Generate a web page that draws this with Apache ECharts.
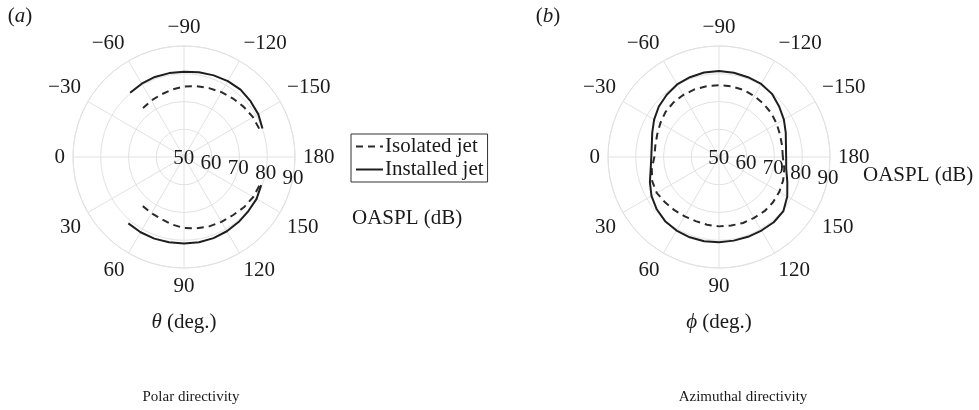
<!DOCTYPE html>
<html>
<head>
<meta charset="utf-8">
<script src="https://cdn.jsdelivr.net/npm/echarts@6/dist/echarts.min.js"></script>
<style>html,body{margin:0;padding:0;background:#fff}#c{width:979px;height:410px}</style>
</head>
<body>
<div id="c"></div>
<script>
// ---- data ----
const radiusTicks = [50, 60, 70, 80, 90];
const thetaA = [50, 60, 70, 80, 90, 100, 110, 120, 130, 140, 150, 160];
const installedNegA = [80.2, 80.5, 80.7, 80.7, 80.7, 81.0, 81.3, 81.6, 81.7, 81.3, 80.9, 80.1];
const installedPosA = [81.2, 81.3, 81.3, 81.2, 81.2, 81.2, 81.1, 80.9, 80.6, 80.3, 80.2, 79.6];
const isolatedNegA = [73.0, 73.5, 74.0, 74.7, 75.4, 75.9, 76.4, 77.0, 77.5, 78.1, 78.7, 79.0];
const isolatedPosA = [73.1, 73.4, 73.8, 74.7, 75.6, 76.1, 76.6, 77.0, 77.4, 78.2, 78.8, 79.1];
const phiB = [-180,-170,-160,-150,-140,-130,-120,-110,-100,-90,-80,-70,-60,-50,-40,-30,-20,-10,0,10,20,30,40,50,60,70,80,90,100,110,120,130,140,150,160,170,180];
const installedB = [74.2,74.5,75.6,77.0,78.3,79.7,80.4,80.6,80.8,81.0,80.9,80.6,80.2,79.3,78.3,77.0,75.6,74.6,74.4,75.0,76.5,78.1,79.3,80.2,80.6,80.8,80.8,80.7,80.6,80.6,80.6,80.7,80.3,78.4,76.2,74.6,74.2];
const isolatedB = [73.0,73.1,73.4,74.0,74.6,75.0,75.4,75.7,75.9,75.9,75.9,75.9,75.8,75.6,75.2,74.4,73.7,73.3,73.3,74.6,75.6,75.9,75.4,75.0,74.7,74.6,74.8,75.0,75.1,75.3,75.3,75.5,75.4,75.1,74.6,73.9,73.0];
const seriesNames = ['Isolated jet', 'Installed jet'];

// ---- styles ----
const FONT = 'Liberation Serif, Times New Roman, serif';
const TXT = '#1a1a1a';
const GRID = '#e2e2e2';
const FS = 21;
const R = 111;
const centers = [[184, 157], [719, 157]];

function angFmt(v) {
  if (v === -180 || v === 180) return '180';
  return v < 0 ? '\u2212' + (-v) : String(v);
}

const polar = [], angleAxis = [], radiusAxis = [];
centers.forEach((c, i) => {
  polar.push({ center: c, radius: R });
  angleAxis.push({
    polarIndex: 2 * i, type: 'value', min: -180, max: 180, interval: 30,
    startAngle: 0, clockwise: false,
    axisLine: { show: true, lineStyle: { color: GRID, width: 1 } },
    axisTick: { show: false },
    splitLine: { show: true, lineStyle: { color: GRID, width: 1 } },
    axisLabel: { show: true, margin: 8, formatter: angFmt, fontFamily: FONT, fontSize: FS, color: TXT }
  });
  radiusAxis.push({
    polarIndex: 2 * i, type: 'value', min: radiusTicks[0], max: radiusTicks[radiusTicks.length - 1], interval: 10,
    axisLine: { show: false }, axisTick: { show: false }, axisLabel: { show: false },
    splitLine: { show: true, lineStyle: { color: GRID, width: 1 } }
  });
  polar.push({ center: c, radius: R });
  angleAxis.push({
    polarIndex: 2 * i + 1, type: 'value', min: 0, max: 360, startAngle: -10, show: false
  });
  radiusAxis.push({
    polarIndex: 2 * i + 1, type: 'value', min: radiusTicks[0], max: radiusTicks[radiusTicks.length - 1], interval: 10,
    axisLine: { show: false }, axisTick: { show: false }, splitLine: { show: false },
    axisLabel: { show: true, margin: -2, align: 'center', fontFamily: FONT, fontSize: FS, color: TXT }
  });
});

const lineBase = { type: 'line', coordinateSystem: 'polar', symbol: 'none', showSymbol: false, smooth: false, z: 5 };
const solid = { color: '#1e1e1e', width: 2, type: 'solid' };
const dashed = { color: '#2a2a2a', width: 2, type: [7, 5] };
function pairs(vals, angs, sign) { return vals.map((v, k) => [v, sign * angs[k]]); }

const series = [
  Object.assign({}, lineBase, { name: seriesNames[0], polarIndex: 0, data: pairs(isolatedNegA, thetaA, -1), lineStyle: dashed, itemStyle: { color: '#2a2a2a' } }),
  Object.assign({}, lineBase, { name: seriesNames[0], polarIndex: 0, data: pairs(isolatedPosA, thetaA, 1), lineStyle: dashed, itemStyle: { color: '#2a2a2a' } }),
  Object.assign({}, lineBase, { name: seriesNames[1], polarIndex: 0, data: pairs(installedNegA, thetaA, -1), lineStyle: solid, itemStyle: { color: '#1e1e1e' } }),
  Object.assign({}, lineBase, { name: seriesNames[1], polarIndex: 0, data: pairs(installedPosA, thetaA, 1), lineStyle: solid, itemStyle: { color: '#1e1e1e' } }),
  Object.assign({}, lineBase, { name: seriesNames[0], polarIndex: 2, data: pairs(isolatedB, phiB, 1), lineStyle: dashed, itemStyle: { color: '#2a2a2a' } }),
  Object.assign({}, lineBase, { name: seriesNames[1], polarIndex: 2, data: pairs(installedB, phiB, 1), lineStyle: solid, itemStyle: { color: '#1e1e1e' } })
];

function txt(x, y, text, size, extra) {
  return {
    type: 'text', x: x, y: y, z: 10,
    style: Object.assign({
      text: text, fill: TXT, fontFamily: FONT, fontSize: size, align: 'center', verticalAlign: 'middle',
      rich: { i: { fontStyle: 'italic', fontFamily: FONT, fontSize: size, fill: TXT } }
    }, extra || {})
  };
}

const option = {
  backgroundColor: '#fff',
  animation: false,
  polar: polar,
  angleAxis: angleAxis,
  radiusAxis: radiusAxis,
  legend: {
    data: seriesNames, orient: 'vertical', left: 351, top: 134,
    borderColor: '#333', borderWidth: 1, borderRadius: 0, padding: [2, 4, 2, 4],
    itemGap: 2, itemWidth: 27, itemHeight: 18,
    itemStyle: { opacity: 0 },
    textStyle: { fontFamily: FONT, fontSize: FS, color: TXT, padding: [0, 0, 0, -3] }
  },
  graphic: [
    txt(20, 16, '({i|a})', FS),
    txt(548, 16, '({i|b})', FS),
    txt(184, 322, '{i|θ} (deg.)', FS),
    txt(719, 322, '{i|ϕ} (deg.)', FS),
    txt(352, 218, 'OASPL (dB)', FS, { align: 'left' }),
    txt(863, 175, 'OASPL (dB)', FS, { align: 'left' }),
    txt(191, 397, 'Polar directivity', 15),
    txt(743, 397, 'Azimuthal directivity', 15)
  ],
  series: series
};

const chart = echarts.init(document.getElementById('c'), null, { renderer: 'canvas' });
chart.setOption(option);
</script>
</body>
</html>
